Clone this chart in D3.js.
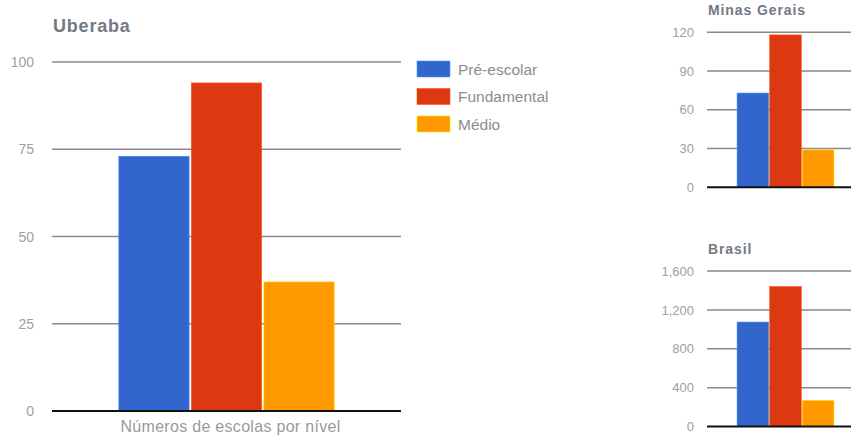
<!DOCTYPE html>
<meta charset="utf-8">
<style>
body { margin: 0; background: #fff; }
svg { display: block; font-family: "Liberation Sans", Arial, sans-serif; }
.grid line { stroke: #8a8a8a; stroke-width: 1.5px; }
.base { stroke: #111; stroke-width: 2px; }
.tick-label { fill: #a0a0a0; }
.title { fill: #737986; font-weight: bold; }
.legend text { fill: #8c8c8c; font-size: 15.5px; }
.axis-title { fill: #9a9a9a; font-size: 16px; letter-spacing: 0.3px; }
</style>
<svg width="851" height="436"></svg>
<script src="https://d3js.org/d3.v7.min.js"></script>
<script>

var series = ["Pré-escolar", "Fundamental", "Médio"];
var colors = ["#3366cc", "#dc3912", "#ff9900"];
var category = ["Números de escolas por nível"];

var uberaba = [73, 94, 37];
var uberabaTicks = [0, 25, 50, 75, 100];

var minasGerais = [73, 118, 29];
var minasTicks = [0, 30, 60, 90, 120];

var brasil = [1075, 1440, 270];
var brasilTicks = [0, 400, 800, 1200, 1600];

var svg = d3.select("svg");

var color = d3.scaleOrdinal().domain(series).range(colors);

function drawChart(opt) {
  var g = svg.append("g");

  var y = d3.scaleLinear()
      .domain([0, d3.max(opt.ticks)])
      .range([opt.bottom, opt.top]);

  var x0 = d3.scaleBand()
      .domain(category)
      .range([opt.left, opt.right])
      .paddingOuter(0.31)
      .paddingInner(0);

  var x1 = d3.scaleBand()
      .domain(series)
      .range([0, x0.bandwidth()])
      .paddingInner(0.03);

  // title
  g.append("text")
      .attr("class", "title")
      .attr("x", opt.left + 1)
      .attr("y", opt.titleY)
      .style("font-size", opt.titleSize + "px")
      .style("letter-spacing", opt.titleSpacing + "px")
      .text(opt.title);

  // gridlines
  g.append("g")
      .attr("class", "grid")
    .selectAll("line")
    .data(opt.ticks.filter(function(d) { return d > 0; }))
    .enter().append("line")
      .attr("x1", opt.left)
      .attr("x2", opt.right)
      .attr("y1", function(d) { return y(d); })
      .attr("y2", function(d) { return y(d); });

  // tick labels
  g.append("g")
    .selectAll("text")
    .data(opt.ticks)
    .enter().append("text")
      .attr("class", "tick-label")
      .attr("x", opt.left - opt.labelGap)
      .attr("y", function(d) { return y(d); })
      .attr("dy", "0.36em")
      .attr("text-anchor", "end")
      .style("font-size", opt.tickSize + "px")
      .text(function(d) { return opt.format(d); });

  // bars
  g.append("g")
    .selectAll("rect")
    .data(opt.values.map(function(v, i) { return { key: series[i], value: v }; }))
    .enter().append("rect")
      .attr("x", function(d) { return x0(category[0]) + x1(d.key); })
      .attr("y", function(d) { return y(d.value); })
      .attr("width", x1.bandwidth())
      .attr("height", function(d) { return y(0) - y(d.value); })
      .attr("fill", function(d) { return color(d.key); })
      .attr("stroke", function(d) { return d3.color(color(d.key)).brighter(1.2); })
      .attr("stroke-width", 0.6);

  // baseline
  g.append("line")
      .attr("class", "base")
      .attr("x1", opt.left)
      .attr("x2", opt.right)
      .attr("y1", y(0))
      .attr("y2", y(0));

  if (opt.axisTitle) {
    g.append("text")
        .attr("class", "axis-title")
        .attr("x", x0(category[0]) + x0.bandwidth() / 2 + 4)
        .attr("y", y(0) + 21)
        .attr("text-anchor", "middle")
        .text(category[0]);
  }
}

drawChart({
  title: "Uberaba", titleY: 32, titleSize: 18, titleSpacing: 0.8,
  values: uberaba, ticks: uberabaTicks,
  left: 52, right: 401, top: 62, bottom: 411,
  labelGap: 18, tickSize: 14, format: d3.format("d"),
  axisTitle: true
});

drawChart({
  title: "Minas Gerais", titleY: 15, titleSize: 14, titleSpacing: 0.9,
  values: minasGerais, ticks: minasTicks,
  left: 707, right: 864, top: 32.3, bottom: 187.3,
  labelGap: 13, tickSize: 13, format: d3.format("d")
});

drawChart({
  title: "Brasil", titleY: 254, titleSize: 14, titleSpacing: 0.9,
  values: brasil, ticks: brasilTicks,
  left: 707, right: 864, top: 271, bottom: 426.5,
  labelGap: 13, tickSize: 13, format: d3.format(",")
});

// legend
var legend = svg.append("g")
    .attr("class", "legend")
  .selectAll("g")
  .data(series)
  .enter().append("g")
    .attr("transform", function(d, i) { return "translate(417," + (61 + i * 27.5) + ")"; });

legend.append("rect")
    .attr("width", 33)
    .attr("height", 16)
    .attr("fill", function(d) { return color(d); })
    .attr("stroke", function(d) { return d3.color(color(d)).brighter(1.2); })
    .attr("stroke-width", 0.6);

legend.append("text")
    .attr("x", 41)
    .attr("y", 8)
    .attr("dy", "0.36em")
    .text(function(d) { return d; });

</script>
